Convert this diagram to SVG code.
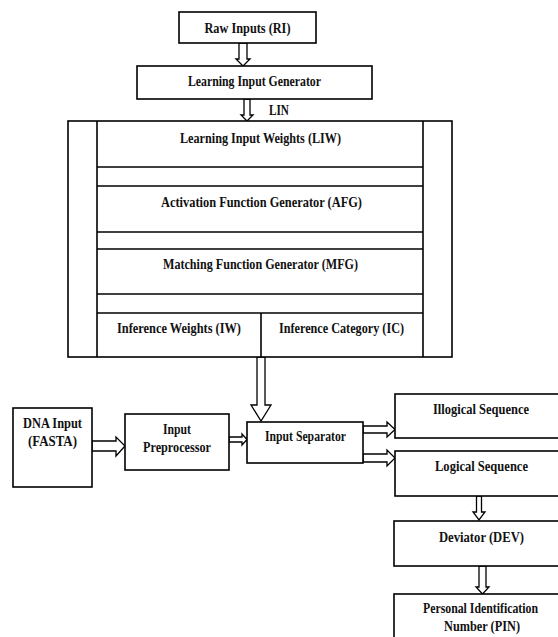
<svg xmlns="http://www.w3.org/2000/svg" width="558" height="637" viewBox="0 0 558 637">
<style>
.box{fill:#fff;stroke:#000;stroke-width:1.6}
.ln{stroke:#000;stroke-width:1.6;fill:none}
.arr{fill:#fff;stroke:#000;stroke-width:1.3;stroke-linejoin:miter}
text{font-family:"Liberation Serif","Times New Roman",serif;font-weight:bold;font-size:14px;fill:#111;text-anchor:middle}
</style>
<rect width="558" height="637" fill="#fff"/>
<g id="connectors">
<polygon class="arr" points="239,43 247,43 247,59 250,59 243,66 236,59 239,59"/>
<polygon class="arr" points="244,99 250,99 250,115 253,115 247,121 241,115 244,115"/>
<polygon class="arr" points="243,167 248,167 248,180 250,180 245.5,186 241,180 243,180"/>
<polygon class="arr" points="243,232 248,232 248,243 250,243 245.5,249 241,243 243,243"/>
<polygon class="arr" points="173,294 178,294 178,307 180,307 175.5,313 171,307 173,307"/>
<polygon class="arr" points="334,294 339,294 339,307 342,307 336.5,313 332,307 334,307"/>
<polygon class="arr" points="257,357 265,357 265,405 271,405 261,421 251,405 257,405"/>
<polygon class="arr" points="92,441 116,441 116,437 125,446 116,456 116,451 92,451"/>
<polygon class="arr" points="229,437 242,437 242,434 247,439.5 242,445 242,442 229,442"/>
<polygon class="arr" points="363,426 387,426 387,422 395,429.5 387,437 387,433 363,433"/>
<polygon class="arr" points="363,454 387,454 387,450 395,458 387,466 387,462 363,462"/>
<polygon class="arr" points="476.5,496 481.5,496 481.5,512 485,512 479,520 473,512 476.5,512"/>
<polygon class="arr" points="479,566 486,566 486,587 489,587 482.5,594 476,587 479,587"/>
</g>
<g id="raw-inputs">
<rect class="box" x="179" y="12" width="137" height="31"/>
<text x="247.5" y="33" textLength="86" lengthAdjust="spacingAndGlyphs">Raw Inputs (RI)</text>
</g>
<g id="learning-input-generator">
<rect class="box" x="137" y="66" width="235" height="33"/>
<text x="254.5" y="86" textLength="133" lengthAdjust="spacingAndGlyphs">Learning Input Generator</text>
</g>
<g id="lin-label">
<text x="279" y="115" textLength="20" lengthAdjust="spacingAndGlyphs">LIN</text>
</g>
<g id="outer-block">
<rect class="box" x="68" y="121" width="384" height="236"/>
<line class="ln" x1="97" y1="121" x2="97" y2="357"/>
<line class="ln" x1="423" y1="121" x2="423" y2="357"/>
</g>
<g id="liw">
<line class="ln" x1="97" y1="167" x2="423" y2="167"/>
<text x="260.5" y="143" textLength="161" lengthAdjust="spacingAndGlyphs">Learning Input Weights (LIW)</text>
</g>
<g id="afg">
<line class="ln" x1="97" y1="186" x2="423" y2="186"/>
<line class="ln" x1="97" y1="232" x2="423" y2="232"/>
<text x="261.5" y="207" textLength="201" lengthAdjust="spacingAndGlyphs">Activation Function Generator (AFG)</text>
</g>
<g id="mfg">
<line class="ln" x1="97" y1="249" x2="423" y2="249"/>
<line class="ln" x1="97" y1="294" x2="423" y2="294"/>
<text x="260.5" y="269" textLength="195" lengthAdjust="spacingAndGlyphs">Matching Function Generator (MFG)</text>
</g>
<g id="iw">
<line class="ln" x1="97" y1="313" x2="423" y2="313"/>
<text x="179" y="333" textLength="124" lengthAdjust="spacingAndGlyphs">Inference Weights (IW)</text>
</g>
<g id="ic">
<line class="ln" x1="261" y1="313" x2="261" y2="357"/>
<text x="341.5" y="333" textLength="125" lengthAdjust="spacingAndGlyphs">Inference Category (IC)</text>
</g>
<g id="dna-input">
<rect class="box" x="13" y="408" width="79" height="79"/>
<text x="52.5" y="428" textLength="59" lengthAdjust="spacingAndGlyphs">DNA Input</text>
<text x="52.5" y="446" textLength="49" lengthAdjust="spacingAndGlyphs">(FASTA)</text>
</g>
<g id="input-preprocessor">
<rect class="box" x="125" y="414" width="104" height="56"/>
<text x="177" y="434" textLength="28" lengthAdjust="spacingAndGlyphs">Input</text>
<text x="177" y="452" textLength="68" lengthAdjust="spacingAndGlyphs">Preprocessor</text>
</g>
<g id="input-separator">
<rect class="box" x="247" y="422" width="116" height="41"/>
<text x="305.5" y="441" textLength="81" lengthAdjust="spacingAndGlyphs">Input Separator</text>
</g>
<g id="illogical-sequence">
<rect class="box" x="395" y="394" width="170" height="44"/>
<text x="481" y="414" textLength="96" lengthAdjust="spacingAndGlyphs">Illogical Sequence</text>
</g>
<g id="logical-sequence">
<rect class="box" x="395" y="451" width="170" height="45"/>
<text x="481.5" y="471" textLength="93" lengthAdjust="spacingAndGlyphs">Logical Sequence</text>
</g>
<g id="deviator">
<rect class="box" x="394" y="521" width="170" height="45"/>
<text x="481.5" y="542" textLength="85" lengthAdjust="spacingAndGlyphs">Deviator (DEV)</text>
</g>
<g id="pin">
<rect class="box" x="394" y="594" width="170" height="50"/>
<text x="480.5" y="613" textLength="115" lengthAdjust="spacingAndGlyphs">Personal Identification</text>
<text x="482" y="631" textLength="76" lengthAdjust="spacingAndGlyphs">Number (PIN)</text>
</g>
</svg>
